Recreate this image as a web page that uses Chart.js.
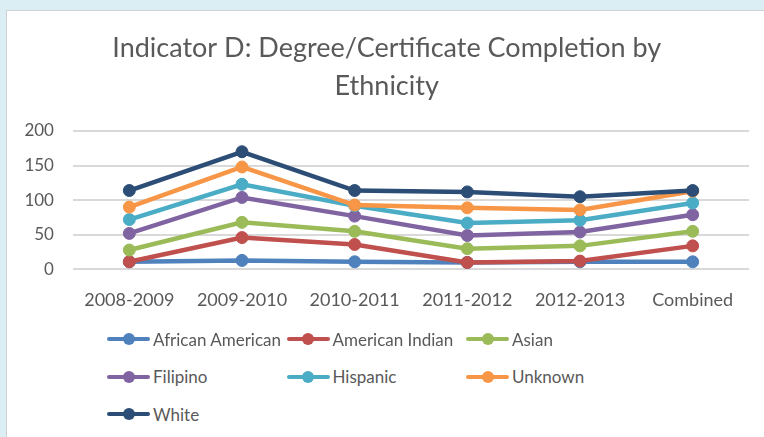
<!DOCTYPE html>
<html>
<head>
<meta charset="utf-8">
<title>Indicator D: Degree/Certificate Completion by Ethnicity</title>
<script src="https://cdn.jsdelivr.net/npm/chart.js@4.4.1/dist/chart.umd.min.js"></script>
<style>
  html, body { margin: 0; padding: 0; }
  body {
    width: 764px; height: 437px; overflow: hidden; position: relative;
    background: #dbeef4; font-family: Lato, 'Open Sans', sans-serif;
  }
  #frame {
    position: absolute; left: 6px; top: 10px; width: 800px; height: 500px;
    background: #fff; border: 1px solid #cfd3d5; box-sizing: border-box;
  }
  #chart-wrap { position: absolute; left: 7px; top: 11px; width: 757px; height: 320px; }
  .legend-item {
    position: absolute; display: flex; align-items: center; height: 20px;
    color: #595959; font-size: 17px; white-space: nowrap;
  }
  .mark { position: relative; width: 43px; height: 12px; margin-right: 3px; }
  .mark .ln { position: absolute; left: 0; right: 0; top: 4px; height: 4px; border-radius: 2px; }
  .mark .dot { position: absolute; left: 15.5px; top: 0; width: 12px; height: 12px; border-radius: 50%; }
</style>
</head>
<body>
<div id="frame"></div>
<div id="chart-wrap"><canvas id="chart"></canvas></div>
<div id="legend"></div>
<script>
const categories = ['2008-2009', '2009-2010', '2010-2011', '2011-2012', '2012-2013', 'Combined'];
const yTicks = [0, 50, 100, 150, 200];

// counts per group, the chart stacks them one on top of the other
const africanAmerican = [11, 13, 11, 10, 11, 11];
const americanIndian = [0, 33, 25, 0, 1, 23];
const asian = [17, 22, 19, 20, 22, 21];
const filipino = [24, 36, 22, 19, 20, 24];
const hispanic = [20, 19, 15, 18, 17, 17];
const unknown = [18, 25, 1, 22, 15, 17];
const white = [24, 22, 21, 23, 19, 1];

const seriesNames = ['African American', 'American Indian', 'Asian', 'Filipino', 'Hispanic', 'Unknown', 'White'];
const seriesValues = [africanAmerican, americanIndian, asian, filipino, hispanic, unknown, white];
const seriesColors = ['#4F81BD', '#C0504D', '#9BBB59', '#8064A2', '#4BACC6', '#F79646', '#2C4D75'];

const textColor = '#595959';
const font = 'Lato, "Open Sans", sans-serif';
const tickPad = 19;

// running totals, so every line sits on the ones below it
const running = categories.map(() => 0);
const datasets = seriesValues.map((vals, i) => {
  const data = vals.map((v, j) => (running[j] += v));
  return {
    label: seriesNames[i],
    data,
    borderColor: seriesColors[i],
    backgroundColor: seriesColors[i],
    pointBackgroundColor: seriesColors[i],
    pointBorderColor: seriesColors[i],
    borderWidth: 4.5,
    pointRadius: 6,
    pointBorderWidth: 1,
    tension: 0,
    fill: false,
    // later series are drawn over earlier ones
    order: seriesNames.length - 1 - i,
  };
});

new Chart(document.getElementById('chart'), {
  type: 'line',
  data: { labels: categories, datasets },
  options: {
    responsive: true,
    maintainAspectRatio: false,
    animation: false,
    layout: { padding: { left: 17.4, right: 15, top: 0, bottom: 0 } },
    plugins: {
      legend: { display: false },
      tooltip: { enabled: false },
      title: {
        display: true,
        text: ['Indicator D: Degree/Certificate Completion by', 'Ethnicity'],
        color: textColor,
        font: { family: font, size: 27, weight: 'normal', lineHeight: 1.426 },
        padding: { top: 18, bottom: 25 },
      },
    },
    scales: {
      x: {
        offset: true,
        grid: { display: false, drawTicks: false },
        border: { display: false },
        ticks: { color: textColor, font: { family: font, size: 18 }, padding: 20, maxRotation: 0, autoSkip: false },
      },
      y: {
        min: yTicks[0],
        max: yTicks[yTicks.length - 1],
        afterBuildTicks: (axis) => { axis.ticks = yTicks.map((v) => ({ value: v })); },
        // labels hang off the right edge, so the outer gap is not needed
        afterFit: (axis) => { axis.width -= tickPad; },
        grid: { color: '#d9d9d9', lineWidth: 2, drawTicks: false },
        border: { display: false },
        ticks: { color: textColor, font: { family: font, size: 17 }, padding: tickPad },
      },
    },
  },
});

// legend in three equal columns, like the spreadsheet one
const legend = document.getElementById('legend');
seriesNames.forEach((name, i) => {
  const col = i % 3;
  const row = Math.floor(i / 3);
  const item = document.createElement('div');
  item.className = 'legend-item';
  item.style.left = (107 + col * 179.5) + 'px';
  item.style.top = (339 + row * 37.6 - 10) + 'px';
  item.innerHTML =
    `<span class="mark"><span class="ln" style="background:${seriesColors[i]}"></span>` +
    `<span class="dot" style="background:${seriesColors[i]}"></span></span><span>${name}</span>`;
  legend.appendChild(item);
});
</script>
</body>
</html>
